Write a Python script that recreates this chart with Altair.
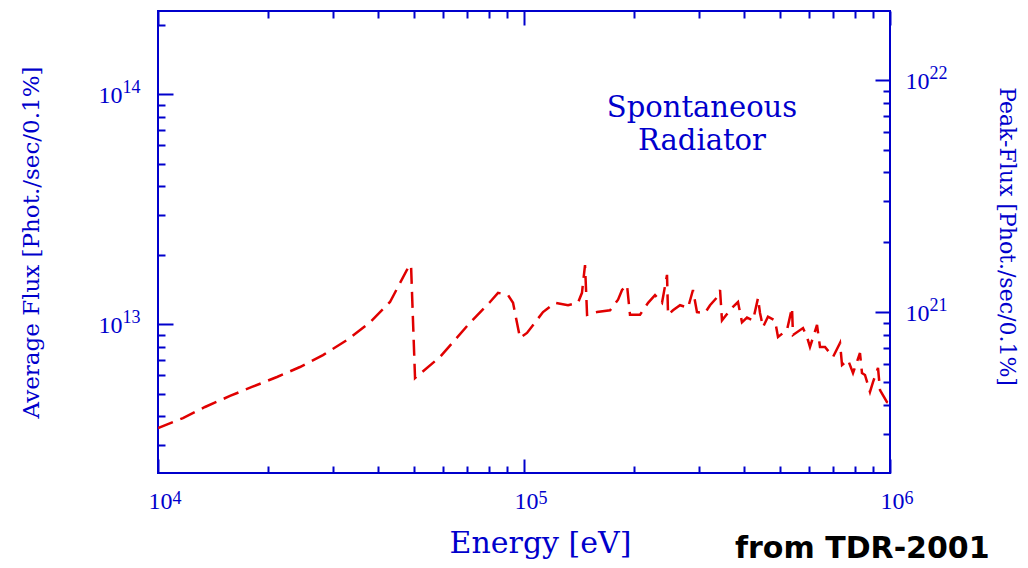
import altair as alt
import pandas as pd

# ---- data ----
energy_ev = [10000, 11700, 13440, 15730, 18060, 21140, 24430, 28230, 32850, 37950,
             43040, 48210, 49130, 50380, 58950, 70310, 80740, 84920, 90430, 93330,
             97520, 101900, 112700, 121500, 131900, 140400, 144000, 146800, 148700, 158300,
             171800, 180700, 185300, 191200, 194800, 207500, 218300, 228000, 238300, 245900,
             247500, 255300, 266900, 280600, 289500, 296900, 312300, 322300, 336900, 343300,
             347500, 365500, 372400, 384300, 394100, 406700, 422400, 435900, 441400, 449800,
             464100, 485000, 494300, 523100, 539800, 543200, 578500, 593200, 604500, 631800,
             643800, 664400, 698800, 730200, 739500, 767800, 792400, 827900, 838400, 854400,
             881700, 898500, 927300, 939100, 981300, 1000000]
avg_flux_e12 = [3.54, 3.91, 4.37, 4.88, 5.34, 5.90, 6.52, 7.35, 8.55, 10.2,
                12.5, 17.6, 18.1, 5.84, 7.21, 9.93, 12.5, 13.7, 13.4, 12.4,
                8.72, 9.17, 11.3, 12.4, 12.1, 12.4, 13.7, 18.1, 11.0, 11.3,
                11.5, 12.8, 14.1, 14.8, 11.0, 11.0, 12.4, 13.4, 12.4, 16.4,
                11.0, 11.5, 12.1, 11.8, 14.1, 11.3, 11.2, 12.1, 13.1, 14.1,
                10.4, 11.5, 11.9, 12.5, 10.2, 10.7, 10.4, 13.0, 11.2, 9.73,
                10.8, 10.4, 8.81, 9.45, 11.8, 8.98, 9.63, 8.81, 7.97, 9.93,
                7.97, 7.97, 7.21, 8.29, 6.65, 7.00, 6.14, 7.50, 6.14, 6.02,
                5.08, 5.61, 6.46, 5.18, 4.59, 4.55]

x_major = [1e4, 1e5, 1e6]
x_minor = [2e4, 3e4, 4e4, 5e4, 6e4, 7e4, 8e4, 9e4, 2e5, 3e5, 4e5, 5e5, 6e5, 7e5, 8e5, 9e5]
yl_major = [1e13, 1e14]
yl_minor = [3e12, 4e12, 5e12, 6e12, 7e12, 8e12, 9e12, 2e13, 3e13, 4e13, 5e13, 6e13,
            7e13, 8e13, 9e13, 2e14]
yr_major = [1e21, 1e22]
yr_minor = [3e20, 4e20, 5e20, 6e20, 7e20, 8e20, 9e20, 2e21, 3e21, 4e21, 5e21, 6e21,
            7e21, 8e21, 9e21]

x_domain = [1e4, 1e6]
yl_domain = [2.257e12, 2.301e14]
yr_domain = [2.033e20, 1.982e22]

x_title = "Energy [eV]"
yl_title = "Average Flux [Phot./sec/0.1%]"
yr_title = "Peak-Flux [Phot./sec/0.1%]"
note_lines = ["Spontaneous", "Radiator"]
source_text = "from TDR-2001"

df = pd.DataFrame({"energy": energy_ev, "flux": [v * 1e12 for v in avg_flux_e12]})

BLUE = "#0000cc"
RED = "#e00000"
LFONT = "Liberation Serif"
TFONT = "DejaVu Serif"
EXP = "format(round(log(datum.value)/LN10), 'd')"
BASE_FS = 24
EXP_FS = 18

W, H = 732, 462

xs = alt.Scale(type="log", domain=x_domain, nice=False)
yls = alt.Scale(type="log", domain=yl_domain, nice=False)
yrs = alt.Scale(type="log", domain=yr_domain, nice=False)


def ax(**kw):
    base = dict(grid=False, domain=False, tickColor=BLUE, tickWidth=2,
                labelColor=BLUE, labelFont=LFONT, labelFontSize=BASE_FS,
                labelFlush=False, labelOverlap=False, labelBound=False,
                titleColor=BLUE, titleFont=TFONT, titleFontWeight="normal",
                title=None)
    base.update(kw)
    return alt.Axis(**base)


def layer(xaxis, yaxis, yscale, visible=False):
    if visible:
        m = alt.Chart(df).mark_line(color=RED, strokeWidth=2.5, strokeDash=[16, 8], clip=True)
    else:
        m = alt.Chart(df).mark_line(strokeOpacity=0, clip=True)
    return m.encode(
        x=alt.X("energy:Q", scale=xs, axis=xaxis),
        y=alt.Y("flux:Q", scale=yscale, axis=yaxis),
    )


no = None

L0 = layer(
    ax(orient="bottom", values=x_major, offset=-14, tickSize=14, labelExpr="'10'",
       labelBaseline="alphabetic", labelPadding=35, labelAlign="center", labelOffset=2),
    ax(orient="left", values=yl_major, offset=-15, tickSize=15, labelExpr="'10'",
       labelAlign="right", labelBaseline="alphabetic", labelOffset=8, labelPadding=36),
    yls, visible=True)

L1 = layer(
    ax(orient="bottom", values=x_minor, offset=-7, tickSize=7, labels=False),
    ax(orient="left", values=yl_minor, offset=-7, tickSize=7, labels=False),
    yls)

L2 = layer(
    ax(orient="top", values=x_major, offset=-14, tickSize=14, labels=False),
    ax(orient="left", values=yl_major, ticks=False, tickSize=0, labelExpr=EXP,
       labelFontSize=EXP_FS, labelAlign="left", labelBaseline="alphabetic",
       labelOffset=-2, labelPadding=36,
       title=yl_title, titleFontSize=23, titleAngle=270, titleX=-120, titleY=231,
       titleAlign="center", titleBaseline="alphabetic"),
    yls)

L3 = layer(
    ax(orient="top", values=x_minor, offset=-7, tickSize=7, labels=False),
    no, yls)

L4 = layer(
    ax(orient="bottom", values=x_major, ticks=False, tickSize=0, labelExpr=EXP,
       labelFontSize=EXP_FS, labelAlign="left", labelBaseline="alphabetic",
       labelOffset=14, labelPadding=30,
       title=x_title, titleFontSize=30, titleX=382, titleY=79,
       titleAlign="center", titleBaseline="alphabetic"),
    no, yls)

R0 = layer(
    no,
    ax(orient="right", values=yr_major, offset=-15, tickSize=15, labelExpr="'10'",
       labelAlign="left", labelBaseline="alphabetic", labelOffset=8, labelPadding=15),
    yrs)

R1 = layer(
    no,
    ax(orient="right", values=yr_minor, offset=-7, tickSize=7, labels=False),
    yrs)

R2 = layer(
    no,
    ax(orient="right", values=yr_major, ticks=False, tickSize=0, labelExpr=EXP,
       labelFontSize=EXP_FS, labelAlign="left", labelBaseline="alphabetic",
       labelOffset=-2, labelPadding=39,
       title=yr_title, titleFontSize=22, titleAngle=90, titleX=109, titleY=225,
       titleAlign="center", titleBaseline="alphabetic"),
    yrs)

note = alt.Chart(pd.DataFrame({"t": [0]})).mark_text(
    font=TFONT, fontSize=29, color=BLUE, align="center", baseline="alphabetic",
    lineHeight=33,
).encode(x=alt.value(544), y=alt.value(106), text=alt.value(note_lines))

source = alt.Chart(pd.DataFrame({"t": [0]})).mark_text(
    font="DejaVu Sans", fontSize=30, fontWeight="bold", color="black",
    align="left", baseline="alphabetic",
).encode(x=alt.value(577), y=alt.value(547), text=alt.value(source_text))

chart = alt.layer(L0, L1, L2, L3, L4, R0, R1, R2, note, source).resolve_scale(
    x="shared", y="independent"
).resolve_axis(
    x="independent", y="independent"
).properties(
    width=W, height=H,
    autosize=alt.AutoSizeParams(type="none"),
    padding={"left": 150, "top": 3, "right": 130, "bottom": 87},
    background="white",
).configure_view(stroke=BLUE, strokeWidth=2)

chart.save("out.html", embed_options={"renderer": "svg", "actions": False})
